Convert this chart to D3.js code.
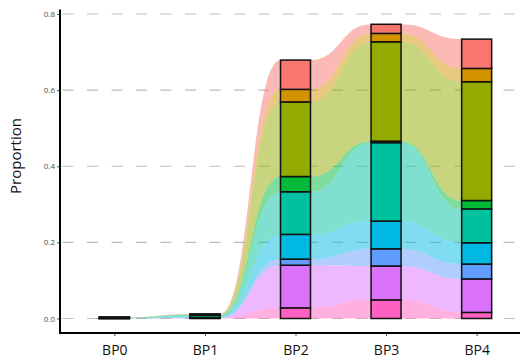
<!DOCTYPE html>
<html><head><meta charset="utf-8">
<script src="https://cdn.jsdelivr.net/npm/d3@7"></script>
<style>body{margin:0;background:#fff}svg{display:block;font-family:"Open Sans",sans-serif}</style>
</head><body><svg id="c" width="520" height="358"></svg>
<script>
const stages = ["BP0","BP1","BP2","BP3","BP4"];
// categories listed from top of stack to bottom
const categories = ["g1","g2","g3","g4","g5","g6","g7","g8","g9"];
const colors = ["#F8766D","#D39200","#93AA00","#00BA38","#00C19F","#00B9E3","#619CFF","#DB72FB","#FF61C3"];
// proportion of each category at each stage (BP0..BP4)
const g1 = [0.0001,0.0005,0.077,0.024,0.077];
const g2 = [0.0001,0.0003,0.033,0.022,0.035];
const g3 = [0.0002,0.001,0.196,0.261,0.312];
const g4 = [0.0005,0.001,0.040,0.004,0.022];
const g5 = [0.0020,0.006,0.112,0.206,0.089];
const g6 = [0.0001,0.001,0.065,0.073,0.056];
const g7 = [0.0001,0.0005,0.016,0.045,0.039];
const g8 = [0.0001,0.001,0.112,0.089,0.088];
const g9 = [0.0001,0.0005,0.028,0.049,0.016];
const yTicks = [0,0.2,0.4,0.6,0.8];
const seriesVals = [g1,g2,g3,g4,g5,g6,g7,g8,g9];

const svg = d3.select("#c");
const x = d3.scalePoint().domain(stages).range([60,531]).padding(0.6);
const y = d3.scaleLinear().domain([0,0.8]).range([318.5,14]);
const barW = 30;

const rows = stages.map((s,i)=>{const o={stage:s}; categories.forEach((c,k)=>o[c]=seriesVals[k][i]); return o;});
const stack = d3.stack().keys(categories.slice().reverse());
const layers = stack(rows); // bottom first

// grid
svg.append("g").selectAll("line").data(yTicks).join("line")
  .attr("x1",60).attr("x2",520).attr("y1",d=>y(d)).attr("y2",d=>y(d))
  .attr("stroke","#bdbdbd").attr("stroke-width",1.1)
  .attr("stroke-dasharray","11,13.5").attr("stroke-dashoffset",-2.5);

// flows
const colorOf = c => colors[categories.indexOf(c)];
const fg = svg.append("g");
layers.forEach(L=>{
  for(let i=0;i<stages.length-1;i++){
    const x0 = x(stages[i])+barW/2, x1 = x(stages[i+1])-barW/2, xm=(x0+x1)/2;
    const a=L[i], b=L[i+1];
    const p = d3.path();
    p.moveTo(x0,y(a[1]));
    p.bezierCurveTo(xm,y(a[1]),xm,y(b[1]),x1,y(b[1]));
    p.lineTo(x1,y(b[0]));
    p.bezierCurveTo(xm,y(b[0]),xm,y(a[0]),x0,y(a[0]));
    p.closePath();
    fg.append("path").attr("d",p.toString()).attr("fill",colorOf(L.key)).attr("fill-opacity",0.5);
  }
});

// bars
const bg = svg.append("g");
layers.forEach(L=>{
  bg.selectAll(null).data(L).join("rect")
    .attr("x",d=>x(d.data.stage)-barW/2).attr("width",barW)
    .attr("y",d=>y(d[1])).attr("height",d=>Math.max(0,y(d[0])-y(d[1])))
    .attr("fill",colorOf(L.key)).attr("stroke","#111").attr("stroke-width",1.5);
});

// axes
const ya = svg.append("g").attr("transform","translate(60,0)")
  .call(d3.axisLeft(y).tickValues(yTicks).tickFormat(d3.format(".1f")).tickSize(3).tickPadding(2));
ya.select(".domain").remove();
ya.selectAll(".tick line").attr("stroke","#555");
ya.selectAll("text").attr("font-size",8).attr("fill","#4d4d4d").attr("font-family","Open Sans");
svg.append("line").attr("x1",60).attr("x2",60).attr("y1",9.5).attr("y2",333.5).attr("stroke","#000").attr("stroke-width",2);

const xa = svg.append("g").attr("transform","translate(0,333)")
  .call(d3.axisBottom(x).tickSize(3).tickPadding(9));
xa.select(".domain").remove();
xa.selectAll(".tick line").attr("stroke","#555");
xa.selectAll("text").attr("font-size",14).attr("fill","#111").attr("font-family","Open Sans");
svg.append("line").attr("x1",59).attr("x2",520).attr("y1",333).attr("y2",333).attr("stroke","#000").attr("stroke-width",2);

svg.append("text").attr("transform","translate(21,156) rotate(-90)").attr("text-anchor","middle")
  .attr("font-size",15).attr("fill","#111").text("Proportion");
</script></body></html>
